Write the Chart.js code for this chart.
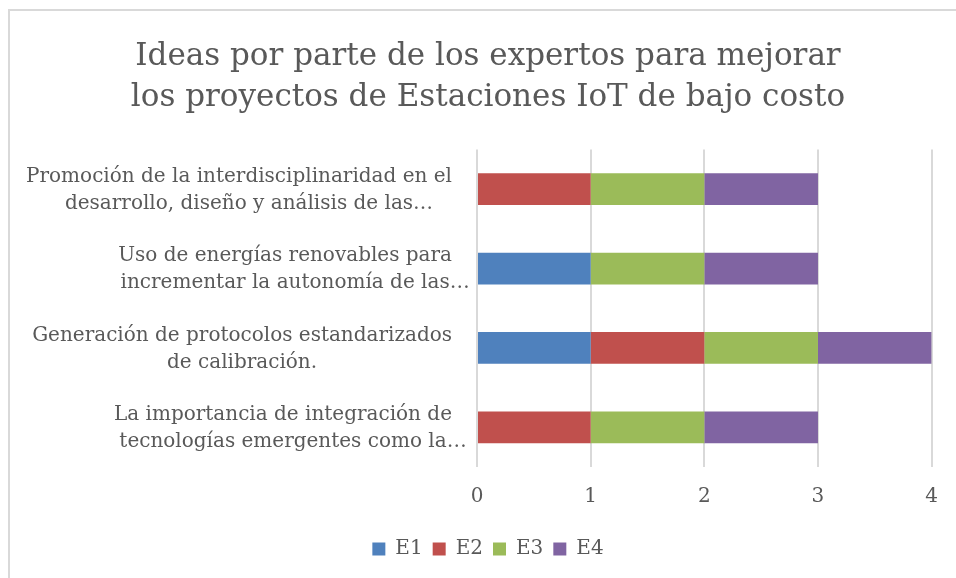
<!DOCTYPE html>
<html>
<head>
<meta charset="utf-8">
<script src="https://cdn.jsdelivr.net/npm/chart.js@4"></script>
<style>
  html, body { margin: 0; padding: 0; background: #fff; overflow: hidden; }
  .frame {
    position: absolute; left: 8px; top: 9px;
    width: 1000px; height: 1000px;
    border: 2px solid #d9d9d9;
  }
  .chart-box { position: absolute; left: 0; top: 0; width: 956px; height: 578px; }
</style>
</head>
<body>
<div class="frame"></div>
<div class="chart-box"><canvas id="ideasChart"></canvas></div>
<script>
// Categories, top to bottom
const categories = [
  ['Promoción de la interdisciplinaridad en el', 'desarrollo, diseño y análisis de las…'],
  ['Uso de energías renovables para', 'incrementar la autonomía de las…'],
  ['Generación de protocolos estandarizados', 'de calibración.'],
  ['La importancia de integración de', 'tecnologías emergentes como la…']
];
const e1 = [0, 1, 1, 0];
const e2 = [1, 0, 1, 1];
const e3 = [1, 1, 1, 1];
const e4 = [1, 1, 1, 1];
const xTicks = [0, 1, 2, 3, 4];

const textColor = '#595959';
const serif = "'DejaVu Serif', serif";

// Category names: each block sits right of the axis gap, lines centred on each other
const categoryLabels = {
  id: 'categoryLabels',
  afterDraw(chart) {
    const ctx = chart.ctx;
    const yAxis = chart.scales.y;
    const right = chart.chartArea.left - 25;
    const lineGap = 27;
    ctx.save();
    ctx.font = '20px ' + serif;
    ctx.fillStyle = textColor;
    ctx.textBaseline = 'middle';
    ctx.textAlign = 'left';
    categories.forEach((lines, i) => {
      const base = lines.map(l => ctx.measureText(l.replace(/…$/, '')).width);
      const widest = Math.max(...base);
      const mid = right - widest / 2;
      const y0 = yAxis.getPixelForTick(i) - (lines.length - 1) * lineGap / 2 + 1;
      lines.forEach((l, j) => ctx.fillText(l, mid - base[j] / 2, y0 + j * lineGap));
    });
    ctx.restore();
  }
};

const ctx = document.getElementById('ideasChart').getContext('2d');
new Chart(ctx, {
  type: 'bar',
  data: {
    labels: categories,
    datasets: [
      { label: 'E1', data: e1, backgroundColor: '#4F81BD' },
      { label: 'E2', data: e2, backgroundColor: '#C0504D' },
      { label: 'E3', data: e3, backgroundColor: '#9BBB59' },
      { label: 'E4', data: e4, backgroundColor: '#8064A2' }
    ]
  },
  options: {
    indexAxis: 'y',
    responsive: true,
    maintainAspectRatio: false,
    animation: false,
    datasets: {
      bar: { barPercentage: 0.4, categoryPercentage: 1, borderWidth: 0 }
    },
    layout: {
      padding: { left: 44, right: 24, top: 0, bottom: 9 }
    },
    scales: {
      x: {
        stacked: true,
        min: xTicks[0],
        max: xTicks[xTicks.length - 1],
        afterBuildTicks: s => { s.ticks = xTicks.map(v => ({ value: v })); },
        afterFit: s => { s.height += 2; },
        border: { display: false },
        grid: { color: '#d9d9d9', lineWidth: 2, drawTicks: false },
        ticks: {
          padding: 18,
          color: textColor,
          font: { family: serif, size: 20 }
        }
      },
      y: {
        stacked: true,
        ticks: { display: false },
        grid: { display: false },
        border: { display: false },
        afterFit: s => { s.width = 433; }
      }
    },
    plugins: {
      title: {
        display: true,
        text: ['Ideas por parte de los expertos para mejorar', 'los proyectos de Estaciones IoT de bajo costo'],
        color: textColor,
        font: { family: serif, size: 31, weight: 'normal', lineHeight: 1.33 },
        padding: { top: 36, bottom: 31 }
      },
      legend: {
        position: 'bottom',
        labels: {
          boxWidth: 13,
          boxHeight: 13,
          padding: 10,
          color: textColor,
          font: { family: serif, size: 20 }
        }
      },
      tooltip: { enabled: false }
    }
  },
  plugins: [categoryLabels]
});
</script>
</body>
</html>
